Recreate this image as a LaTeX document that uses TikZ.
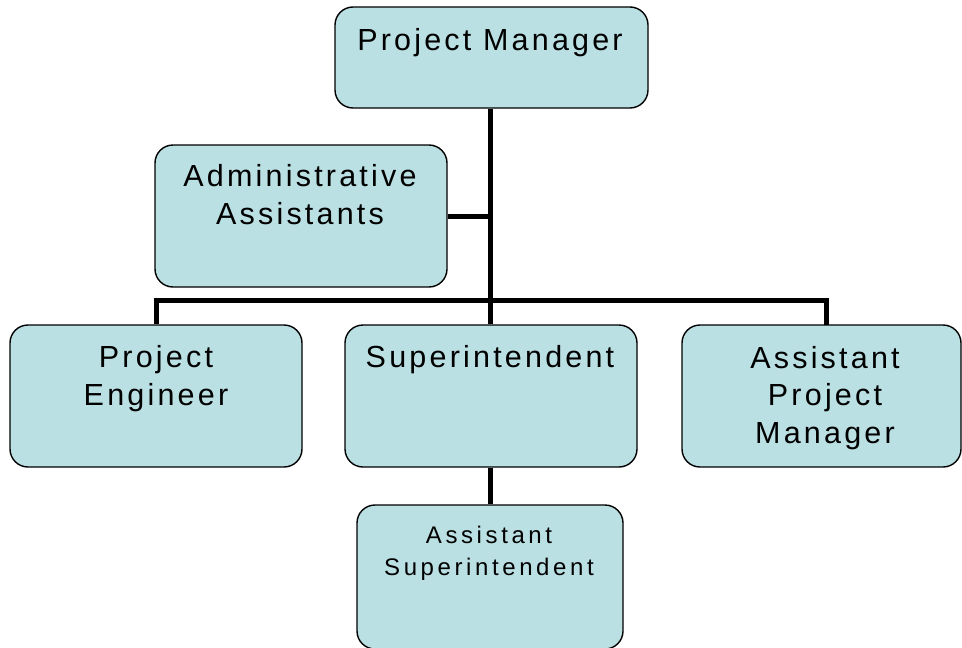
\documentclass[tikz,border=0pt]{standalone}
\usepackage{fontspec}
\newfontfamily\bigfont[LetterSpace=10.5]{Liberation Sans}
\newfontfamily\smallfont[LetterSpace=15]{Liberation Sans}
\definecolor{boxfill}{RGB}{186,224,227}
\tikzset{
  box/.style={draw=black, line width=1.4pt, fill=boxfill, rounded corners=18pt, inner sep=0pt},
  conn/.style={line width=5pt, black},
  bigtxt/.style={anchor=base, align=center, inner sep=0pt, font=\bigfont\fontsize{30.5}{37.5}\selectfont},
  smalltxt/.style={anchor=base, align=center, inner sep=0pt, font=\smallfont\fontsize{24}{32}\selectfont},
}
\begin{document}
\begin{tikzpicture}[x=1pt,y=-1pt]
\useasboundingbox (0,0) rectangle (962,648);
\coordinate (jn) at (490,300);
\coordinate (aj) at (490,216);
\node[box, minimum width=313pt, minimum height=101pt] (pm) at (491.5,57.5) {};
\node[box, minimum width=292pt, minimum height=142pt] (admin) at (301,216) {};
\node[box, minimum width=292pt, minimum height=142pt] (pe) at (156,396) {};
\node[box, minimum width=292pt, minimum height=142pt] (sup) at (491,396) {};
\node[box, minimum width=279pt, minimum height=142pt] (apm) at (821.5,396) {};
\node[box, minimum width=266pt, minimum height=144pt] (asup) at (490,577) {};
\coordinate (apmtop) at (826,325);
\draw[conn] (jn |- pm.south) -- (jn);
\draw[conn] (admin.east) -- (aj);
\draw[conn] (pe.north) |- (jn) -| (apmtop);
\draw[conn] (jn) -- (jn |- sup.north);
\draw[conn] (jn |- sup.south) -- (jn |- asup.north);
% texts (anchor base = baseline of last line)
\node[bigtxt] (tpm) at (490,50) {Project Manager};
\node[bigtxt] (tadmin) at (300,224) {Administrative\\Assistants};
\node[bigtxt] (tpe) at (156,405) {Project\\Engineer};
\node[bigtxt] (tsup) at (490,367) {Superintendent};
\node[bigtxt] (tapm) at (825,443) {Assistant\\Project\\Manager};
\node[smalltxt] (tasup) at (489,575) {Assistant\\Superintendent};
\end{tikzpicture}
\end{document}
